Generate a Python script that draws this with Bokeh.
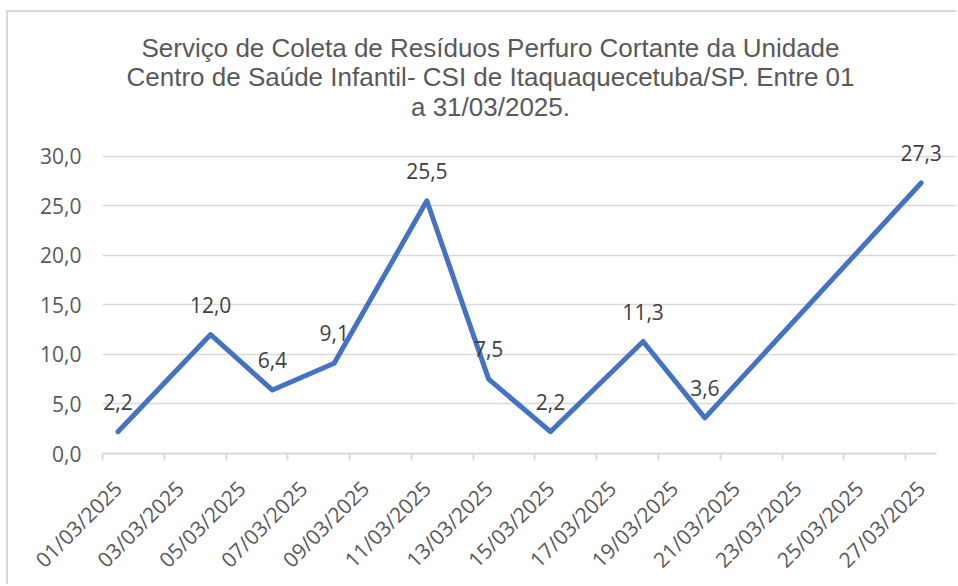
import math
from bokeh.plotting import figure
from bokeh.models import ColumnDataSource, FixedTicker, Range1d, Label
from bokeh.embed import file_html
from bokeh.resources import INLINE

# ---- data ----
dates = ["01/03/2025", "04/03/2025", "06/03/2025", "08/03/2025", "11/03/2025",
         "13/03/2025", "15/03/2025", "18/03/2025", "20/03/2025", "27/03/2025"]
values = [2.2, 12.0, 6.4, 9.1, 25.5, 7.5, 2.2, 11.3, 3.6, 27.3]
tick_labels = ["01/03/2025", "03/03/2025", "05/03/2025", "07/03/2025", "09/03/2025",
               "11/03/2025", "13/03/2025", "15/03/2025", "17/03/2025", "19/03/2025",
               "21/03/2025", "23/03/2025", "25/03/2025", "27/03/2025"]
y_ticks = [0, 5, 10, 15, 20, 25, 30]
title_lines = ["Serviço de Coleta de Resíduos Perfuro Cortante da Unidade",
               "Centro de Saúde Infantil- CSI de Itaquaquecetuba/SP. Entre 01",
               "a 31/03/2025."]
n_days = 27

def day_center(s):
    return int(s[:2]) - 1 + 0.5

xs = [day_center(d) for d in dates]
labels = [f"{v:.1f}".replace(".", ",") for v in values]
src = ColumnDataSource(dict(x=xs, y=values, lab=labels))

label_pos = [day_center(t) for t in tick_labels]
boundary_pos = [int(t[:2]) - 1 for t in tick_labels]

# frame: 10 px per y unit; ranges extended (no grid there) so title and labels fit
y_top = 44.4
x_right = 27.71
p = figure(width=950, height=574, output_backend="svg", toolbar_location=None,
           x_range=Range1d(0, x_right), y_range=Range1d(0, y_top),
           min_border_left=94, min_border_right=0, min_border_top=1,
           min_border_bottom=129)
p.styles = {"margin-left": "6px", "margin-top": "10px",
            "border-top": "2px solid #d9d9d9", "border-left": "2px solid #d9d9d9"}
p.outline_line_color = None
p.background_fill_color = "white"
p.border_fill_color = "white"

# grid
p.xgrid.grid_line_color = None
p.ygrid.grid_line_color = "#d9d9d9"
p.ygrid.grid_line_width = 1.5
p.ygrid.bounds = (0, n_days)

# y axis
p.yaxis.ticker = FixedTicker(ticks=y_ticks)
p.yaxis.major_label_overrides = {t: f"{t:.1f}".replace(".", ",") for t in y_ticks}
p.yaxis.axis_line_color = None
p.yaxis.major_tick_line_color = None
p.yaxis.major_tick_out = 0
p.yaxis.major_tick_in = 0
p.yaxis.minor_tick_line_color = None
p.yaxis.minor_tick_out = 0
p.yaxis.major_label_text_font = "Open Sans"
p.yaxis.major_label_text_font_size = "21px"
p.yaxis.major_label_text_color = "#595959"
p.yaxis.major_label_standoff = 21

# x axis
p.xaxis.ticker = FixedTicker(ticks=label_pos, minor_ticks=boundary_pos)
p.xaxis.bounds = (0, n_days)
p.xaxis.major_label_overrides = {lp: t for lp, t in zip(label_pos, tick_labels)}
p.xaxis.major_label_orientation = math.pi / 4
p.xaxis.axis_line_color = "#d9d9d9"
p.xaxis.axis_line_width = 2
p.xaxis.major_tick_line_color = None
p.xaxis.major_tick_out = 0
p.xaxis.major_tick_in = 0
p.xaxis.minor_tick_line_color = "#d9d9d9"
p.xaxis.minor_tick_line_width = 2
p.xaxis.minor_tick_in = 0
p.xaxis.minor_tick_out = 7
p.xaxis.major_label_text_font = "Open Sans"
p.xaxis.major_label_text_font_size = "21px"
p.xaxis.major_label_text_color = "#595959"
p.xaxis.major_label_standoff = 24

# line
p.line("x", "y", source=src, line_color="#4472C4", line_width=5,
       line_join="round", line_cap="round")

# data labels
p.text("x", "y", text="lab", source=src, text_align="center", text_baseline="middle",
       y_offset=-30, text_font={"value": "Open Sans"}, text_font_size="21px",
       text_color="#404040")

# title lines (data coordinates in the extended upper part of the frame)
title_x = 12.56
title_ys = [40.95, 37.95, 35.0]
for line, ty in zip(title_lines, title_ys):
    p.add_layout(Label(x=title_x, y=ty, text=line, text_align="center",
                       text_baseline="middle", text_font="Liberation Sans",
                       text_font_size="26px", text_color="#595959"))

open("out.html", "w").write(file_html(p, INLINE))
